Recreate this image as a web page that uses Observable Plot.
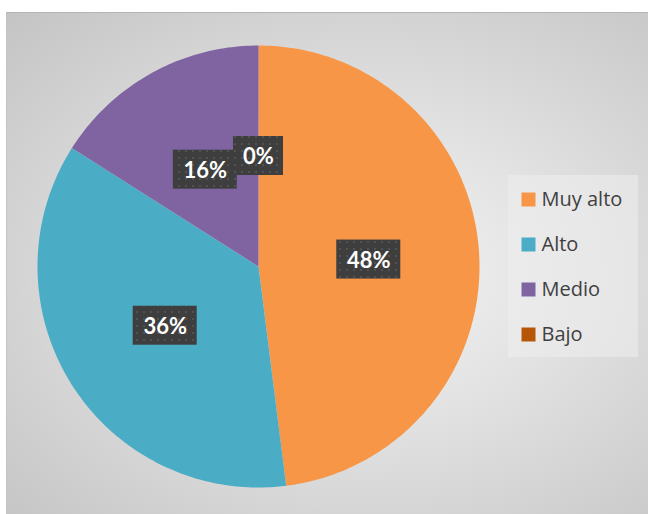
<!DOCTYPE html>
<html><head><meta charset="utf-8">
<script src="https://cdn.jsdelivr.net/npm/d3@7"></script>
<script src="https://cdn.jsdelivr.net/npm/@observablehq/plot@0.6"></script>
<style>
body{margin:0;background:#fff;font-family:Lato,"Open Sans",sans-serif;}
#wrap{position:relative;width:648px;height:514px;overflow:hidden;}
#frame{position:absolute;left:6px;top:12px;width:642px;height:502px;
  background:radial-gradient(ellipse farthest-corner at 56% 52%, #f4f4f4 0%, #e2e2e2 40%, #c4c4c4 100%);
  border-top:1px solid #b4b4b4;border-left:1px solid #c4c4c4;box-sizing:border-box;}
#pie{position:absolute;left:0;top:0;}
#legend{position:absolute;left:508px;top:175px;width:130px;height:182px;background:rgba(238,238,238,0.55);}
</style></head><body>
<div id="wrap"><div id="frame"></div><div id="pie"></div><div id="legend"></div></div>
<script>
const categories = ["Muy alto", "Alto", "Medio", "Bajo"];
const percents = [48, 36, 16, 0];
const colors = ["#F79646", "#4BACC6", "#8064A2", "#B65708"];

// layout (pixels)
const W = 648, H = 514, CX = 258, CY = 266, R = 221;

const data = categories.map((c, i) => ({category: c, value: percents[i]}));
const arcs = d3.pie().sort(null).value(d => d.value)(data);

const slicePts = [];
arcs.forEach(a => {
  const c = a.data.category;
  slicePts.push({category: c, x: 0, y: 0});
  const n = Math.max(2, Math.ceil((a.endAngle - a.startAngle) / (Math.PI / 180)));
  for (let k = 0; k <= n; k++) {
    const t = a.startAngle + (a.endAngle - a.startAngle) * k / n;
    slicePts.push({category: c, x: Math.sin(t), y: Math.cos(t)});
  }
});

const labels = arcs.map(a => {
  const m = (a.startAngle + a.endAngle) / 2;
  const txt = a.data.value + "%";
  const w = (14 * txt.length + 22) / R, h = 39 / R;
  const x = 0.5 * Math.sin(m), y = 0.5 * Math.cos(m);
  return {category: a.data.category, text: txt, x, y, x1: x - w / 2, x2: x + w / 2, y1: y - h / 2, y2: y + h / 2};
});

const pie = Plot.plot({
  width: W, height: H,
  marginLeft: 0, marginRight: 0, marginTop: 0, marginBottom: 0,
  style: {background: "transparent", fontFamily: "Lato, 'Open Sans', sans-serif"},
  x: {domain: [-CX / R, (W - CX) / R], axis: null},
  y: {domain: [-(H - CY) / R, CY / R], axis: null},
  color: {domain: categories, range: colors},
  marks: [
    Plot.line(slicePts, {x: "x", y: "y", z: "category", fill: "category", stroke: "none", curve: "linear"}),
    Plot.rect(labels, {x1: "x1", x2: "x2", y1: "y1", y2: "y2", fill: "url(#dots)", ariaLabel: "labelbox"}),
    Plot.text(labels, {x: "x", y: "y", text: "text", fill: "white", fontSize: 22, fontWeight: "bold", dy: 1})
  ]
});

const svg = d3.select(pie);
const defs = svg.insert("defs", ":first-child");
const pat = defs.append("pattern").attr("id", "dots").attr("patternUnits", "userSpaceOnUse")
  .attr("width", 7).attr("height", 7);
pat.append("rect").attr("width", 7).attr("height", 7).attr("fill", "#3e3e3e");
pat.append("rect").attr("x", 3).attr("y", 3).attr("width", 2).attr("height", 2).attr("fill", "#525252");
svg.selectAll('g[aria-label="labelbox"] rect').style("filter", "drop-shadow(3px 4px 3px rgba(0,0,0,0.5))");
document.getElementById("pie").appendChild(pie);

const legend = Plot.plot({
  width: 130, height: 182,
  marginLeft: 0, marginRight: 0, marginTop: 24, marginBottom: 23,
  style: {background: "transparent", fontFamily: "'Open Sans', Lato, sans-serif"},
  x: {axis: null},
  y: {domain: categories, type: "point", padding: 0, axis: null},
  color: {domain: categories, range: colors},
  marks: [
    Plot.dot(categories, {y: d => d, fill: d => d, symbol: "square", r: 7.9, frameAnchor: "left", dx: 20}),
    Plot.text(categories, {y: d => d, text: d => d, frameAnchor: "left", dx: 33, textAnchor: "start", fontSize: 20, fill: "#404040"})
  ]
});
document.getElementById("legend").appendChild(legend);
</script>
</body></html>
